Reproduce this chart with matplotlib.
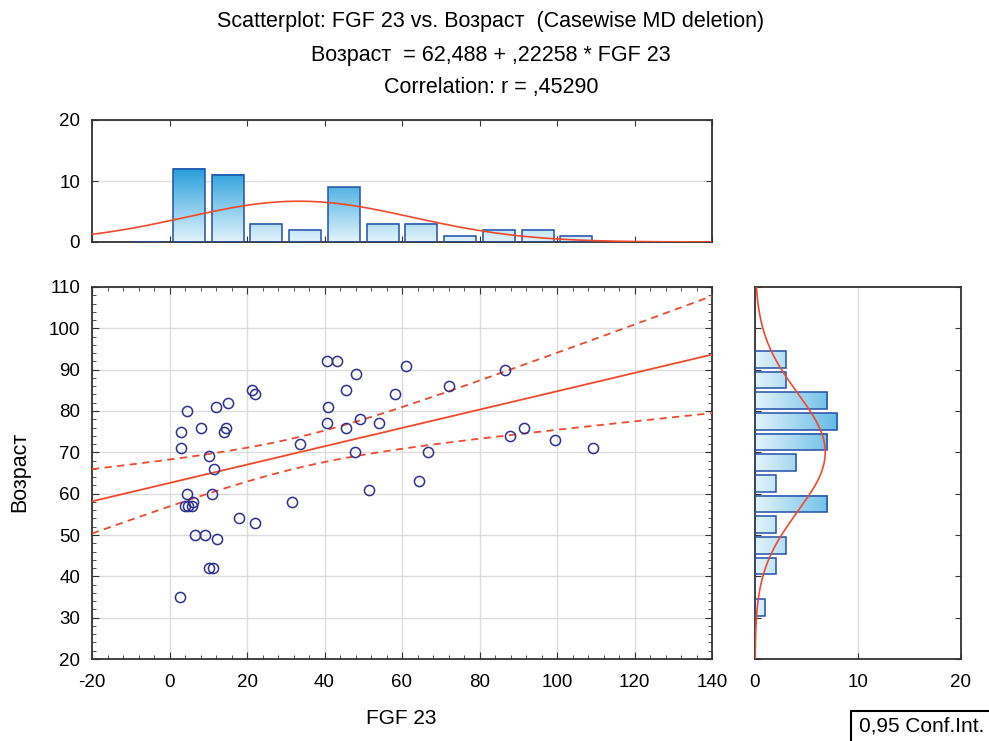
import numpy as np
import matplotlib.pyplot as plt
from matplotlib.colors import LinearSegmentedColormap
from matplotlib.patches import Rectangle
from matplotlib.ticker import MultipleLocator

#! datos
fgf23 = [40.7, 43.2, 48.1, 45.6, 61.0, 58.3, 21.4, 22.1, 4.5, 11.9,
         15.0, 40.8, 3.0, 8.1, 14.1, 14.7, 40.7, 45.6, 49.2, 54.1,
         3.0, 10.2, 33.8, 47.8, 11.6, 4.5, 10.9, 3.9, 4.8, 5.8,
         6.0, 51.4, 31.6, 17.9, 22.1, 6.6, 9.1, 12.3, 10.2, 11.2,
         2.7, 72.1, 86.5, 66.8, 87.9, 91.5, 99.5, 109.4, 64.3]
vozrast = [92, 92, 89, 85, 91, 84, 85, 84, 80, 81,
           82, 81, 75, 76, 75, 76, 77, 76, 78, 77,
           71, 69, 72, 70, 66, 60, 60, 57, 57, 57,
           58, 61, 58, 54, 53, 50, 50, 49, 42, 42,
           35, 86, 90, 70, 74, 76, 73, 71, 63]

titulos = ["Scatterplot: FGF 23 vs. Возраст  (Casewise MD deletion)",
           "Возраст  = 62,488 + ,22258 * FGF 23",
           "Correlation: r = ,45290"]

#* bordes de clases de los histogramas
bins_x = np.arange(-10, 120, 10)
bins_y = np.arange(30, 100, 5)

t_975 = 2.0117  # t de student, 47 g.l.

color_rojo = '#ee4a2e'
color_azul = '#2e3192'
color_borde = '#2450a8'
cmap_barras = LinearSegmentedColormap.from_list('barras', ['#e2f3fc', '#1f9bd9'])


def barra_gradiente(ax, x0, x1, y0, y1, vmax, vertical=True):
  #* barra con relleno en degradado segun el valor
  if vertical:
    grad = np.linspace(y0, y1, 64).reshape(-1, 1)
  else:
    grad = np.linspace(x0, x1, 64).reshape(1, -1)
  ax.imshow(grad, extent=[x0, x1, y0, y1], origin='lower', aspect='auto',
            cmap=cmap_barras, vmin=0, vmax=vmax, zorder=2, interpolation='bilinear')
  ax.add_patch(Rectangle((x0, y0), x1 - x0, y1 - y0, fill=False,
                         edgecolor=color_borde, lw=1.1, zorder=3))


def estilo_ejes(ax):
  for s in ax.spines.values():
    s.set_linewidth(1.3)
    s.set_color('#333333')


def main():
  plt.rcParams['font.family'] = ['Liberation Sans', 'DejaVu Sans']
  plt.rcParams['axes.unicode_minus'] = False
  tam = 13.5
  tam_tit = 15.5

  x = np.array(fgf23)
  y = np.array(vozrast, dtype=float)
  n = len(x)

  fig = plt.figure(figsize=(9.89, 7.41), dpi=100)
  W, H = 989, 741

  def caja(l, t, r, b):
    return [l / W, 1 - b / H, (r - l) / W, (b - t) / H]

  ax = fig.add_axes(caja(92, 287, 712, 659))
  ax_top = fig.add_axes(caja(92, 120, 712, 242))
  ax_der = fig.add_axes(caja(755, 287, 961, 659))

  #! diagrama de dispersion
  ax.set_xlim(-20, 140)
  ax.set_ylim(20, 110)
  ax.xaxis.set_major_locator(MultipleLocator(20))
  ax.xaxis.set_minor_locator(MultipleLocator(4))
  ax.yaxis.set_major_locator(MultipleLocator(10))
  ax.yaxis.set_minor_locator(MultipleLocator(2))
  ax.grid(True, which='major', color='#dddddd', lw=1, zorder=0)
  ax.tick_params(which='both', direction='in', top=True, right=True, labelsize=tam, color='#333333')
  ax.tick_params(which='major', length=5)
  ax.tick_params(which='minor', length=3)
  ax.tick_params(axis='x', which='both', pad=10.5)
  ax.tick_params(axis='y', which='both', pad=8.5)
  estilo_ejes(ax)

  #* recta de regresion y bandas de confianza
  pend, inter = np.polyfit(x, y, 1)
  res = y - (inter + pend * x)
  s_res = np.sqrt(np.sum(res ** 2) / (n - 2))
  sxx = np.sum((x - x.mean()) ** 2)
  xx = np.linspace(-20, 140, 400)
  yy = inter + pend * xx
  se = s_res * np.sqrt(1 / n + (xx - x.mean()) ** 2 / sxx)
  ax.plot(xx, yy, color=color_rojo, lw=1.3, zorder=3)
  ax.plot(xx, yy + t_975 * se, color=color_rojo, lw=1.3, ls=(0, (4, 3)), zorder=3)
  ax.plot(xx, yy - t_975 * se, color=color_rojo, lw=1.3, ls=(0, (4, 3)), zorder=3)

  ax.plot(x, y, 'o', ms=7.3, mfc='none', mec=color_azul, mew=1.1, zorder=4, clip_on=False)

  #! histograma superior (FGF 23)
  cuentas_x, _ = np.histogram(x, bins=bins_x)
  ancho_x = bins_x[1] - bins_x[0]
  for i, c in enumerate(cuentas_x):
    cx = bins_x[i] + ancho_x / 2
    barra_gradiente(ax_top, cx - 4.1, cx + 4.1, 0, c, 12.5, vertical=True)
  xg = np.linspace(-20, 140, 400)
  sd_x = x.std(ddof=1)
  ax_top.plot(xg, n * ancho_x * np.exp(-0.5 * ((xg - x.mean()) / sd_x) ** 2) / (sd_x * np.sqrt(2 * np.pi)),
              color=color_rojo, lw=1.2, zorder=4)
  ax_top.set_xlim(-20, 140)
  ax_top.set_ylim(0, 20)
  ax_top.xaxis.set_major_locator(MultipleLocator(20))
  ax_top.yaxis.set_major_locator(MultipleLocator(10))
  ax_top.grid(True, axis='y', color='#dddddd', lw=1, zorder=0)
  ax_top.tick_params(direction='in', top=True, right=True, labelbottom=False, labelsize=tam,
                     length=4, color='#333333')
  ax_top.tick_params(axis='y', pad=8.5)
  estilo_ejes(ax_top)

  #! histograma derecho (Возраст)
  cuentas_y = [np.sum((y > a) & (y <= b)) for a, b in zip(bins_y[:-1], bins_y[1:])]
  ancho_y = bins_y[1] - bins_y[0]
  for i, c in enumerate(cuentas_y):
    cy = bins_y[i] + ancho_y / 2
    barra_gradiente(ax_der, 0, c, cy - 2.05, cy + 2.05, 12.5, vertical=False)
  yg = np.linspace(20, 110, 400)
  sd_y = y.std(ddof=1)
  ax_der.plot(n * ancho_y * np.exp(-0.5 * ((yg - y.mean()) / sd_y) ** 2) / (sd_y * np.sqrt(2 * np.pi)), yg,
              color=color_rojo, lw=1.2, zorder=4)
  ax_der.set_xlim(0, 20)
  ax_der.set_ylim(20, 110)
  ax_der.xaxis.set_major_locator(MultipleLocator(10))
  ax_der.yaxis.set_major_locator(MultipleLocator(10))
  ax_der.grid(True, axis='x', color='#dddddd', lw=1, zorder=0)
  ax_der.tick_params(direction='in', right=True, labelleft=False, labelsize=tam,
                     length=4, color='#333333')
  ax_der.tick_params(axis='x', pad=10.5)
  estilo_ejes(ax_der)

  #! titulos y etiquetas
  for txt, yp in zip(titulos, [22, 56, 87]):
    fig.text(491 / W, 1 - yp / H, txt, ha='center', va='center', fontsize=tam_tit)
  fig.text(401 / W, 1 - 718 / H, 'FGF 23', ha='center', va='center', fontsize=15)
  fig.text(20 / W, 1 - 472 / H, 'Возраст', ha='center', va='center', rotation=90, fontsize=15.5)

  #* recuadro de intervalo de confianza
  fig.patches.append(Rectangle((851 / W, -0.01), 0.2, 0.01 + 30 / H, transform=fig.transFigure,
                               fill=False, edgecolor='black', lw=1.5))
  fig.text(859 / W, 1 - 726 / H, '0,95 Conf.Int.', ha='left', va='center', fontsize=15)

  fig.savefig('out.png', dpi=100)


if __name__ == "__main__":
  main()
